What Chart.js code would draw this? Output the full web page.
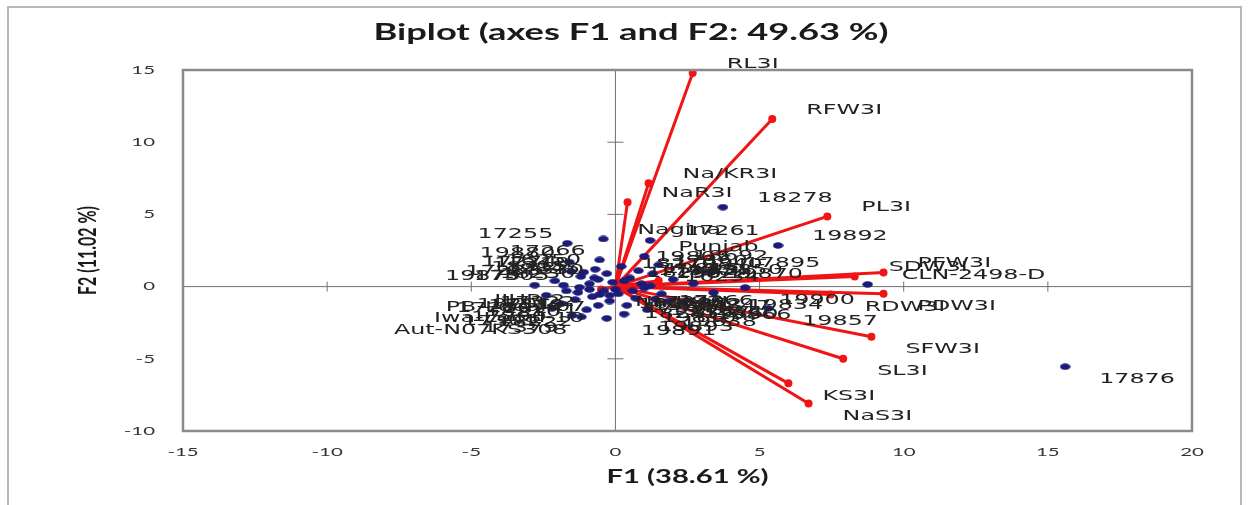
<!DOCTYPE html>
<html>
<head>
<meta charset="utf-8">
<script src="https://cdn.jsdelivr.net/npm/chart.js@4.4.0/dist/chart.umd.min.js"></script>
<style>
html, body { margin: 0; padding: 0; background: #fff; }
#wrap { position: relative; width: 1248px; height: 505px; }
#frame { position: absolute; left: 7px; top: 6px; width: 1235px; height: 505px;
         border: 2px solid #b8b8b8; border-bottom: none; box-sizing: border-box; }
#biplot { position: absolute; left: 0; top: 0; }
</style>
</head>
<body>
<div id="wrap">
  <div id="frame"></div>
  <canvas id="biplot" width="1248" height="505"></canvas>
</div>
<script>
// Variables (red vectors)
const varNames = ['RL3I', 'RFW3I', 'Na/KR3I', 'NaR3I', 'PL3I', 'SDW3I', 'PFW3I', 'RDW3I', 'PDW3I',
                  'SFW3I', 'SL3I', 'KS3I', 'NaS3I', 'KR3I', 'Na/KS3I'];
const varX = [2.68, 5.44, 1.15, 0.42, 7.35, 8.3, 9.3, 7.47, 9.3, 8.88, 7.9, 6.0, 6.7, 1.5, -0.5];
const varY = [14.8, 11.6, 7.15, 5.85, 4.86, 0.7, 0.97, -0.55, -0.5, -3.47, -5.0, -6.7, -8.1, 0.4, -0.2];

// Observations (blue dots)
const obsNames = ['17876', '18278', '19892', 'CLN-2498-D', 'Nagina', '17261', 'Punjab', '18692', '17895',
                  '19900', '19834', '16234', '19860', '19857', '19891', '17255', '17266', '17274', '19845',
                  'IIHR-2', 'PB-Local-07', 'Iwa-Local-10', 'Aut-N07KS308',
                  '17280', '17283', '17290', '18201', '18210', '18215', '18222', '18230', '18241', '18250',
                  '18263', '18270', '18285', '18290', '19801', '19805', '19810', '19815', '19822', '19828',
                  '19838', '19840', '19847', '19850', '19866', '19870', '19875', '19880', '19893',
                  '17301', '17305', '17310', '17318', '17322', '17330', '17335', '17340', '17347', '17352',
                  '17360', '17366', '17371', '17379'];
const obsX = [15.6, 3.73, 5.64, 8.75, -0.42, 1.2, 1.0, 1.5, 3.3,
              4.5, 3.4, 1.2, 1.85, 5.3, -0.3, -1.67, -0.55, -1.53, -0.73,
              -1.25, -0.55, -0.6, -1.18,
              -2.4, -2.1, -1.9, -1.7, -1.4, -1.2, -1.0, -0.9, -0.8, -0.7,
              -0.4, -0.3, -0.2, -0.1, 0.1, 0.2, 0.4, 0.5, 0.7, 0.9,
              1.1, 1.3, 1.6, 2.0, 2.3, 2.7, -2.8, -1.6, 0.3,
              -2.2, -1.8, -1.3, -1.1, -0.9, -0.6, -0.2, 0.0, 0.3, 0.6,
              0.8, 1.0, 1.4, -1.5];
const obsY = [-5.55, 5.5, 2.85, 0.15, 3.3, 3.2, 2.1, 1.5, 1.0,
              -0.07, -0.42, 0.05, -1.0, -1.5, -2.2, 3.0, 1.85, 1.05, 0.6,
              -0.05, -0.55, -1.3, -2.1,
              -0.6, 0.4, -1.2, -0.3, -0.9, 0.7, -1.6, 0.2, -0.7, 1.2,
              -0.3, 0.9, -1.0, 0.3, -0.5, 1.4, -1.3, 0.6, -0.8, 0.2,
              -1.6, 0.9, -0.5, 0.5, -1.1, 0.2, 0.1, 1.7, -1.9,
              -1.5, 0.1, -0.4, 1.0, -0.2, 0.5, -0.6, -0.2, 0.4, -0.3,
              1.1, -0.1, -0.9, -2.0];

// Axis ticks
const xTicks = [-15, -10, -5, 0, 5, 10, 15, 20];
const yTicks = [-10, -5, 0, 5, 10, 15];

const RED = '#f01414';
const NAVY = '#1b1b7a';

// the source picture is widened, so its text is drawn widened too
function wideText(ctx, text, x, y, align, sx) {
    ctx.save();
    ctx.translate(x, y);
    ctx.scale(sx, 1);
    ctx.textAlign = align;
    ctx.textBaseline = 'middle';
    ctx.fillText(text, 0, 0);
    ctx.restore();
}

function pointLabel(ctx, name, px, py, vx, vy) {
    const ty = vy >= 0 ? py - 9 : py + 13;
    if (vx < -0.5) wideText(ctx, name, px - 14, ty, 'right', 1.7);
    else wideText(ctx, name, px + 34, ty, 'left', 1.7);
}

// ellipse marker for observations
const dot = document.createElement('canvas');
dot.width = 11; dot.height = 7;
(function () {
    const c = dot.getContext('2d');
    c.fillStyle = NAVY;
    c.beginPath();
    c.ellipse(5.5, 3.5, 5.2, 3.2, 0, 0, Math.PI * 2);
    c.fill();
})();

const biplotDecor = {
    id: 'biplotDecor',
    beforeDatasetsDraw(chart) {
        const {ctx, chartArea: a, scales: {x, y}} = chart;
        const x0 = x.getPixelForValue(0), y0 = y.getPixelForValue(0);
        ctx.save();
        ctx.strokeStyle = '#707070';
        ctx.lineWidth = 1;
        ctx.beginPath();
        ctx.moveTo(x0, a.top); ctx.lineTo(x0, a.bottom);
        ctx.moveTo(a.left, y0); ctx.lineTo(a.right, y0);
        xTicks.forEach(v => {
            const p = x.getPixelForValue(v);
            ctx.moveTo(p, y0 - 5); ctx.lineTo(p, y0 + 5);
        });
        yTicks.forEach(v => {
            const p = y.getPixelForValue(v);
            ctx.moveTo(x0 - 8, p); ctx.lineTo(x0 + 8, p);
        });
        ctx.stroke();
        ctx.restore();
    },
    afterDatasetsDraw(chart) {
        const {ctx, chartArea: a, scales: {x, y}} = chart;
        ctx.save();
        // plot box
        ctx.strokeStyle = '#8a8a8a';
        ctx.lineWidth = 2.5;
        ctx.strokeRect(a.left, a.top, a.right - a.left, a.bottom - a.top);

        // point labels
        ctx.fillStyle = '#222';
        ctx.font = '14px "DejaVu Sans"';
        varNames.forEach((n, i) => {
            pointLabel(ctx, n, x.getPixelForValue(varX[i]), y.getPixelForValue(varY[i]), varX[i], varY[i]);
        });
        obsNames.forEach((n, i) => {
            pointLabel(ctx, n, x.getPixelForValue(obsX[i]), y.getPixelForValue(obsY[i]), obsX[i], obsY[i]);
        });

        // tick labels
        ctx.fillStyle = '#333';
        ctx.font = '12px Lato';
        xTicks.forEach(v => wideText(ctx, String(v), x.getPixelForValue(v), a.bottom + 21, 'center', 1.7));
        yTicks.forEach(v => wideText(ctx, String(v), a.left - 28, y.getPixelForValue(v), 'right', 1.7));

        // titles
        ctx.fillStyle = '#1a1a1a';
        ctx.font = 'bold 22px Lato';
        wideText(ctx, 'Biplot (axes F1 and F2: 49.63 %)', 631, 33, 'center', 1.65);
        ctx.font = 'bold 18px Lato';
        wideText(ctx, 'F1 (38.61 %)', (a.left + a.right) / 2, 477, 'center', 1.62);
        ctx.save();
        ctx.translate(88, (a.top + a.bottom) / 2);
        ctx.scale(1.5, 1);
        ctx.rotate(-Math.PI / 2);
        ctx.font = 'bold 16px Lato';
        ctx.textAlign = 'center';
        ctx.textBaseline = 'middle';
        ctx.fillText('F2 (11.02 %)', 0, 0);
        ctx.restore();
        ctx.restore();
    }
};

const vectorSets = varNames.map((name, i) => ({
    label: name,
    data: [{x: 0, y: 0}, {x: varX[i], y: varY[i]}],
    showLine: true,
    borderColor: RED,
    borderWidth: 3,
    pointRadius: [0, 4],
    pointBackgroundColor: RED,
    pointBorderWidth: 0,
    order: 2
}));

const obsSet = {
    label: 'Observations',
    data: obsNames.map((n, i) => ({x: obsX[i], y: obsY[i]})),
    pointStyle: dot,
    pointRadius: 5,
    showLine: false,
    order: 1
};

new Chart(document.getElementById('biplot'), {
    type: 'scatter',
    data: { datasets: [obsSet, ...vectorSets] },
    options: {
        responsive: false,
        animation: false,
        devicePixelRatio: 1,
        layout: { padding: { left: 183, top: 70, right: 56, bottom: 74 } },
        plugins: { legend: { display: false }, tooltip: { enabled: false } },
        scales: {
            x: { type: 'linear', min: -15, max: 20, display: false },
            y: { type: 'linear', min: -10, max: 15, display: false }
        }
    },
    plugins: [biplotDecor]
});
</script>
</body>
</html>
